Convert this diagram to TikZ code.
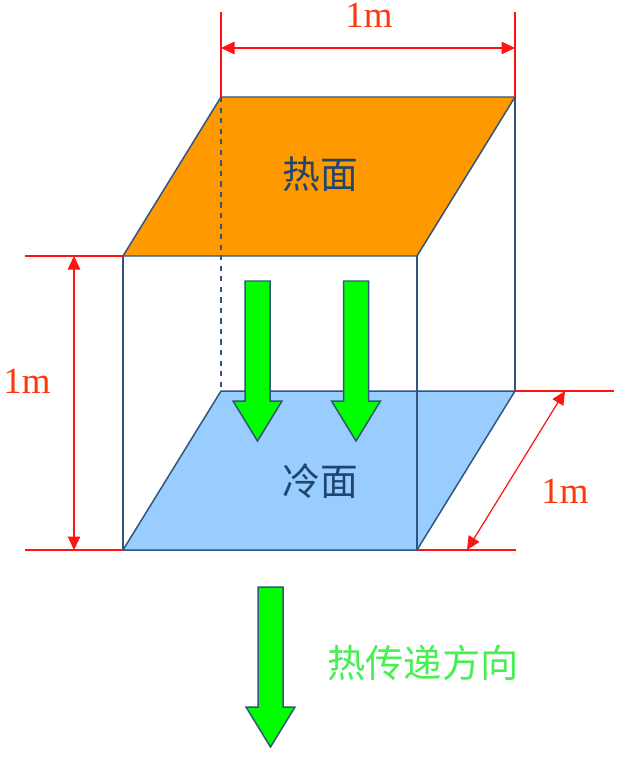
\documentclass[tikz,border=0pt]{standalone}
\usepackage{fontspec}
\setmainfont{Liberation Serif}
\newfontfamily\cjk{Noto Sans CJK SC}
\usetikzlibrary{arrows.meta}
\definecolor{edgeblue}{RGB}{50,85,125}
\definecolor{textblue}{RGB}{30,70,110}
\definecolor{hotface}{RGB}{255,153,0}
\definecolor{coldface}{RGB}{153,204,255}
\definecolor{dimred}{RGB}{255,20,20}
\definecolor{dimtext}{RGB}{255,55,10}
\definecolor{flowgreen}{RGB}{0,255,0}
\definecolor{flowtext}{RGB}{70,240,80}
\tikzset{>={Triangle[length=0.27cm,width=0.25cm]}}
\tikzset{
	edge/.style={draw=edgeblue,line width=0.85pt},
	dimline/.style={draw=dimred,line width=0.7pt},
	dimlabel/.style={text=dimtext,font=\fontsize{21}{21}\selectfont,inner sep=0pt},
	facelabel/.style={text=textblue,font=\cjk\fontsize{21.5}{21}\selectfont,inner sep=0pt},
	flow/.style={fill=flowgreen,draw=edgeblue,line width=0.85pt,line join=miter}
}
% x, y = top of the shaft, #3 = length of the shaft
\newcommand{\heatarrow}[3]{
	\path[flow] (#1-12.5,#2) -- (#1+12.5,#2) -- (#1+12.5,#2+#3) -- (#1+24.5,#2+#3)
		-- (#1,#2+#3+40) -- (#1-24.5,#2+#3) -- (#1-12.5,#2+#3) -- cycle;
}

\begin{document}
\begin{tikzpicture}[x=0.02cm,y=-0.02cm]
	\useasboundingbox (0,0) rectangle (640,777);

	% corners of the cube
	\coordinate (tbl) at (221,97);
	\coordinate (tbr) at (515,97);
	\coordinate (tfr) at (417,256);
	\coordinate (tfl) at (123,256);
	\coordinate (bbl) at (221,391);
	\coordinate (bbr) at (515,391);
	\coordinate (bfr) at (417,550);
	\coordinate (bfl) at (123,550);

	% faces
	\path[edge,fill=coldface] (bbl)--(bbr)--(bfr)--(bfl)--cycle;
	\path[edge,fill=hotface] (tbl)--(tbr)--(tfr)--(tfl)--cycle;
	\draw[edge] (tfl)--(bfl);
	\draw[edge] (tfr)--(bfr);
	\draw[edge] (tbr)--(bbr);
	\draw[edge,dashed] (tbl)--(bbl);

	\node[facelabel] (hot) at (320,174) {热面};
	\node[facelabel] (cold) at (320,481) {冷面};

	\foreach \x in {257.5,356}
		\heatarrow{\x}{281}{120};
	\heatarrow{270.5}{587}{120};
	\node[text=flowtext,font=\cjk\fontsize{21.8}{21}\selectfont,inner sep=0pt] (dir) at (423,663) {热传递方向};

	% width
	\coordinate (wl) at (221,12);
	\coordinate (wr) at (515,12);
	\coordinate (wa) at (221,48);
	\coordinate (wb) at (515,48);
	\draw[dimline] (wl)--(tbl);
	\draw[dimline] (wr)--(tbr);
	\draw[dimline,<->] (wa)--(wb);
	\node[dimlabel] (wlabel) at (369,15.5) {1m};

	% height
	\coordinate (hl) at (25,256);
	\coordinate (hm) at (25,550);
	\coordinate (ha) at (74,256);
	\coordinate (hb) at (74,550);
	\draw[dimline] (hl)--(tfl);
	\draw[dimline] (hm)--(bfl);
	\draw[dimline,<->] (ha)--(hb);
	\node[dimlabel] (hlabel) at (27,381) {1m};

	% depth
	\coordinate (dr) at (614,391);
	\coordinate (ds) at (516,550);
	\coordinate (da) at (565,391);
	\coordinate (db) at (467,550);
	\draw[dimline] (bbr)--(dr);
	\draw[dimline] (bfr)--(ds);
	\draw[dimline,<->] (da)--(db);
	\node[dimlabel] (dlabel) at (565,491) {1m};
\end{tikzpicture}
\end{document}
